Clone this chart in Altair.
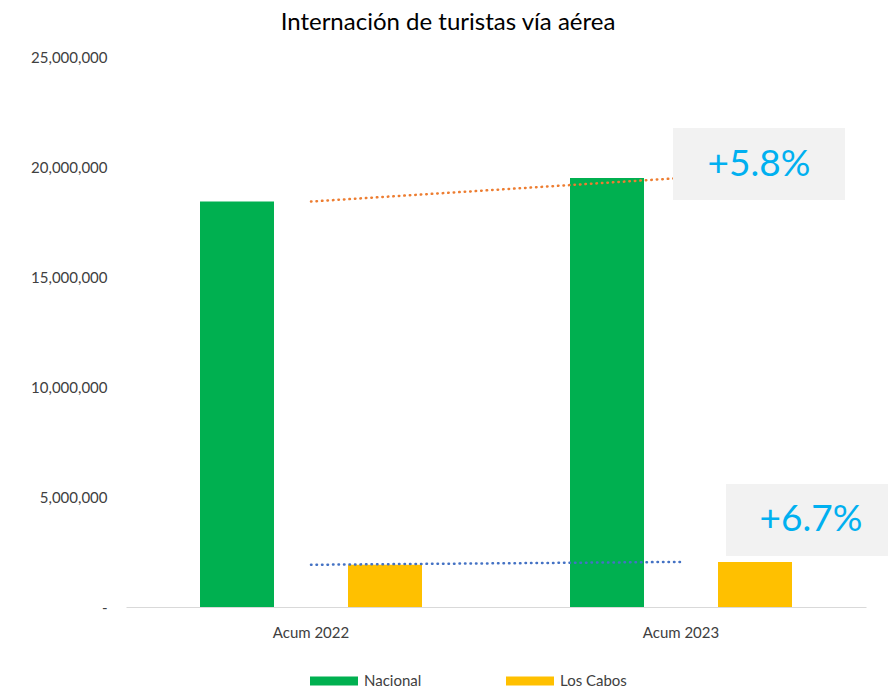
import altair as alt
import pandas as pd

# ---- data ----
categories = ["Acum 2022", "Acum 2023"]
series = ["Nacional", "Los Cabos"]
nacional = [18430000, 19500000]
los_cabos = [1920000, 2050000]
growth_labels = ["+5.8%", "+6.7%"]

FONT = "Lato"
GREY_TXT = "#404040"

rows = []
for i, c in enumerate(categories):
    rows.append({"cat": c, "serie": "Nacional", "value": nacional[i]})
    rows.append({"cat": c, "serie": "Los Cabos", "value": los_cabos[i]})
df = pd.DataFrame(rows)

trend_nac = pd.DataFrame({"cat": categories, "value": nacional})
trend_lc = pd.DataFrame({"cat": categories, "value": los_cabos})

x_enc = alt.X(
    "cat:N",
    scale=alt.Scale(domain=categories, paddingInner=0, paddingOuter=0),
    axis=alt.Axis(
        title=None, labelAngle=0, ticks=False, tickSize=0, labelPadding=18,
        domainColor="#D9D9D9", domainWidth=1, labelFont=FONT, labelFontSize=15,
        labelColor=GREY_TXT, grid=False,
    ),
)
y_enc = alt.Y(
    "value:Q",
    scale=alt.Scale(domain=[0, 25000000], nice=False),
    axis=alt.Axis(
        title=None, values=[0, 5000000, 10000000, 15000000, 20000000, 25000000],
        labelExpr="datum.value == 0 ? '-\u2002' : format(datum.value, ',')",
        domain=False, ticks=False, tickSize=0, grid=False, labelPadding=19,
        labelFont=FONT, labelFontSize=15, labelColor=GREY_TXT,
    ),
)

bars = alt.Chart(df).mark_bar().encode(
    x=x_enc,
    xOffset=alt.XOffset(
        "serie:N",
        scale=alt.Scale(domain=["Nacional", "_gap", "Los Cabos"], paddingInner=0, paddingOuter=1),
    ),
    y=y_enc,
    color=alt.Color(
        "serie:N",
        scale=alt.Scale(domain=series, range=["#00B050", "#FFC000"]),
        legend=alt.Legend(
            title=None, orient="none", legendX=184, legendY=600, direction="horizontal",
            symbolType="M-1,-0.1875H1V0.1875H-1Z", symbolSize=2304, symbolStrokeWidth=0,
            labelFont=FONT, labelFontSize=15, labelColor=GREY_TXT, labelOffset=6,
            columnPadding=84,
        ),
    ),
)

line_nac = alt.Chart(trend_nac).mark_line(
    color="#ED7D31", strokeWidth=2.5, strokeDash=[0.5, 5], strokeCap="round"
).encode(x="cat:N", y="value:Q")
line_lc = alt.Chart(trend_lc).mark_line(
    color="#4472C4", strokeWidth=2.5, strokeDash=[0.5, 5], strokeCap="round"
).encode(x="cat:N", y="value:Q")

box1 = alt.Chart(pd.DataFrame({"t": [growth_labels[0]]})).mark_rect(color="#F2F2F2").encode(
    x=alt.value(547), x2=alt.value(719), y=alt.value(71), y2=alt.value(143)
)
txt1 = alt.Chart(pd.DataFrame({"t": [growth_labels[0]]})).mark_text(
    font=FONT, fontSize=37, color="#00B0F0", align="center", baseline="middle"
).encode(text="t:N", x=alt.value(633), y=alt.value(108))
box2 = alt.Chart(pd.DataFrame({"t": [growth_labels[1]]})).mark_rect(color="#F2F2F2").encode(
    x=alt.value(600), x2=alt.value(762), y=alt.value(427), y2=alt.value(499)
)
txt2 = alt.Chart(pd.DataFrame({"t": [growth_labels[1]]})).mark_text(
    font=FONT, fontSize=37, color="#00B0F0", align="center", baseline="middle"
).encode(text="t:N", x=alt.value(685), y=alt.value(463))

chart = (
    alt.layer(bars, line_nac, line_lc, box1, txt1, box2, txt2)
    .properties(
        width=740, height=550,
        background="white",
        title=alt.TitleParams(
            "Internación de turistas vía aérea", font=FONT, fontSize=24,
            fontWeight="normal", color="#000000", anchor="middle", dx=-48, offset=15,
        ),
        autosize=alt.AutoSizeParams(type="none"),
        padding={"left": 118, "top": 49, "right": 22, "bottom": 81},
    )
    .configure_view(stroke=None, strokeWidth=0)
)

chart.save("out.html", embed_options={"renderer": "svg", "actions": False})
